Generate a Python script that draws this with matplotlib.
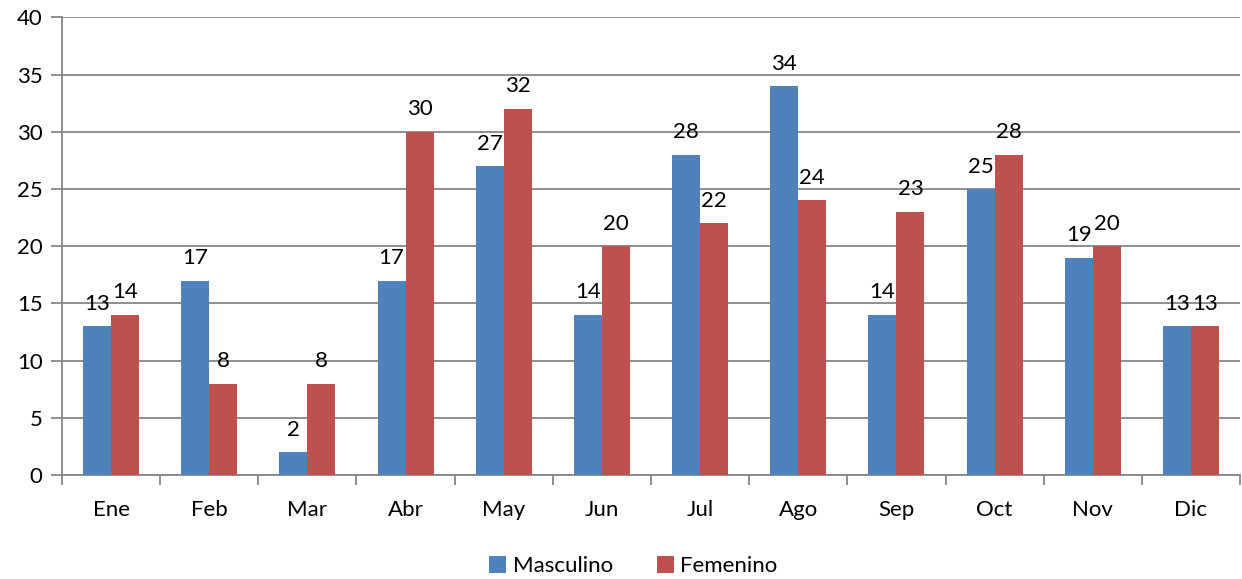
import numpy as np
import matplotlib
matplotlib.use("Agg")
import matplotlib.pyplot as plt
from matplotlib.ticker import FixedLocator

# --- DATA ---
months = ["Ene", "Feb", "Mar", "Abr", "May", "Jun", "Jul", "Ago", "Sep", "Oct", "Nov", "Dic"]
masculino = [13, 17, 2, 17, 27, 14, 28, 34, 14, 25, 19, 13]
femenino = [14, 8, 8, 30, 32, 20, 22, 24, 23, 28, 20, 13]

# --- STYLE ---
plt.rcParams["font.family"] = ["Lato", "DejaVu Sans"]
blue = "#4F81BD"
red = "#C0504D"
grid = "#868686"
fs = 16

fig = plt.figure(figsize=(12.42, 5.79), dpi=100)
ax = fig.add_axes([0.0499, 0.1796, 0.9485, 0.7902])

x = np.arange(len(months))
w = 0.285
b1 = ax.bar(x - w / 2, masculino, w, color=blue, label="Masculino", zorder=3)
b2 = ax.bar(x + w / 2, femenino, w, color=red, label="Femenino", zorder=3)

for bars in (b1, b2):
    for rect in bars:
        h = rect.get_height()
        ax.annotate(f"{h:g}", (rect.get_x() + rect.get_width() / 2, h),
                    xytext=(0, 9), textcoords="offset points",
                    ha="center", va="bottom", fontsize=fs, color="black")

ax.set_xlim(-0.5, len(months) - 0.5)
ax.set_ylim(0, 40)
ax.set_yticks(range(0, 41, 5))
ax.yaxis.grid(True, color=grid, linewidth=1.3, zorder=0)
ax.set_axisbelow(True)

ax.set_xticks(x)
ax.set_xticklabels(months)
ax.xaxis.set_minor_locator(FixedLocator(np.arange(-0.5, len(months), 1)))
ax.tick_params(axis="x", which="major", length=0, pad=18, labelsize=fs)
ax.tick_params(axis="x", which="minor", length=7, width=1.3, color=grid, direction="out")
ax.tick_params(axis="y", length=8, width=1.3, color=grid, pad=6, labelsize=fs)

for side in ("top", "right"):
    ax.spines[side].set_visible(False)
for side in ("left", "bottom"):
    ax.spines[side].set_color(grid)
    ax.spines[side].set_linewidth(1.3)

fig.legend(handles=[b1, b2], labels=["Masculino", "Femenino"], loc="center",
           bbox_to_anchor=(0.51, 0.022), ncol=2, frameon=False, fontsize=fs,
           handlelength=0.75, handleheight=0.75, handletextpad=0.3, columnspacing=2.0)

fig.savefig("out.png", dpi=100)
